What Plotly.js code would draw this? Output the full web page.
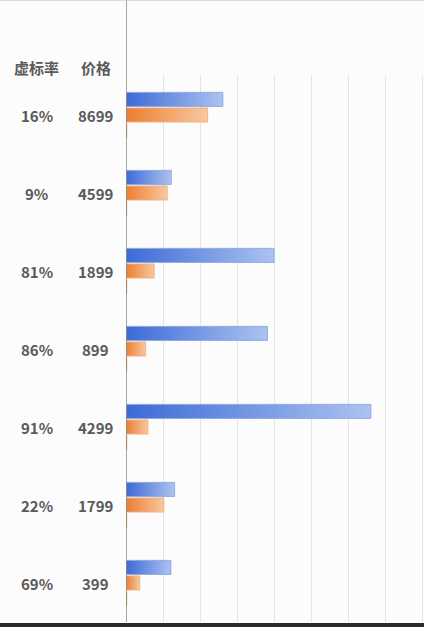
<!DOCTYPE html>
<html>
<head>
<meta charset="utf-8">
<script src="https://cdn.plot.ly/plotly-3.0.1.min.js"></script>
<style>
  html, body { margin: 0; padding: 0; background: #fcfcfc; }
  #myDiv { width: 424px; height: 627px; }
</style>
</head>
<body>
<div id="myDiv"></div>
<script>
// one row per product, top to bottom
var products = ['A', 'B', 'C', 'D', 'E', 'F', 'G'];
var rates = ['16%', '9%', '81%', '86%', '91%', '22%', '69%'];
var prices = ['8699', '4599', '1899', '899', '4299', '1799', '399'];

var claimed = [261, 122, 399, 381, 660, 131, 121];
var measured = [220, 111, 76, 53, 59, 102, 37];
var third = [3, 3, 3, 3, 3, 3, 3];

var txtColor = '#5a5a5a';
var txtFont = {family: 'Noto Sans CJK SC, Noto Sans, sans-serif', size: 15, color: txtColor, weight: 700};

var trace1 = {
  y: products,
  x: claimed,
  type: 'bar',
  orientation: 'h',
  name: 'claimed',
  marker: {
    color: 'rgb(90,130,222)',
    line: {color: 'rgba(140,165,225,0.9)', width: 1}
  },
  hoverinfo: 'none'
};

var trace2 = {
  y: products,
  x: measured,
  type: 'bar',
  orientation: 'h',
  name: 'measured',
  marker: {
    color: 'rgb(240,155,95)',
    line: {color: 'rgba(240,175,130,0.9)', width: 1}
  },
  hoverinfo: 'none'
};

var trace3 = {
  y: products,
  x: third,
  type: 'bar',
  orientation: 'h',
  name: 'other',
  marker: {color: 'rgb(190,145,20)'},
  hoverinfo: 'none'
};

var data = [trace1, trace2, trace3];

var annotations = [
  {text: '虚标率', xref: 'paper', yref: 'paper', x: -0.2997, y: 1.0147, showarrow: false,
   xanchor: 'center', yanchor: 'middle', font: txtFont},
  {text: '价格', xref: 'paper', yref: 'paper', x: -0.1023, y: 1.0147, showarrow: false,
   xanchor: 'center', yanchor: 'middle', font: txtFont}
];
for (var i = 0; i < products.length; i++) {
  annotations.push({text: rates[i], xref: 'paper', yref: 'y', x: -0.2997, y: products[i],
    showarrow: false, xanchor: 'center', yanchor: 'middle', font: txtFont});
  annotations.push({text: prices[i], xref: 'paper', yref: 'y', x: -0.1023, y: products[i],
    showarrow: false, xanchor: 'center', yanchor: 'middle', font: txtFont});
}

var layout = {
  width: 424,
  height: 627,
  margin: {l: 126, r: 0, t: 76, b: 5},
  paper_bgcolor: '#fcfcfc',
  plot_bgcolor: '#fcfcfc',
  showlegend: false,
  barmode: 'group',
  bargap: 0.40,
  bargroupgap: 0.1,
  xaxis: {
    range: [0, 803],
    dtick: 100,
    showgrid: true,
    gridcolor: '#e4e4e4',
    gridwidth: 1,
    zeroline: false,
    showticklabels: false,
    showline: false,
    fixedrange: true
  },
  yaxis: {
    autorange: 'reversed',
    showticklabels: false,
    showgrid: false,
    zeroline: false,
    showline: false,
    fixedrange: true
  },
  annotations: annotations,
  shapes: [
    // vertical axis line, runs up to the top edge
    {type: 'line', xref: 'x', yref: 'paper', x0: 0, x1: 0, y0: 0, y1: 1.15,
     line: {color: '#8a8a8a', width: 1.5}},
    // frame edges of the screenshot
    {type: 'line', xref: 'paper', yref: 'paper', x0: -0.43, x1: 1, y0: 1.14, y1: 1.14,
     line: {color: '#bdbdbd', width: 2}},
    {type: 'rect', xref: 'paper', yref: 'paper', x0: -0.43, x1: 1, y0: -0.01, y1: -0.002,
     fillcolor: '#2b2b2b', line: {width: 0}}
  ]
};

Plotly.newPlot('myDiv', data, layout, {staticPlot: true}).then(function (gd) {
  // give the bars a left-to-right gradient like the original
  var svg = gd.querySelector('svg.main-svg');
  var ns = 'http://www.w3.org/2000/svg';
  var defs = document.createElementNS(ns, 'defs');
  function grad(id, c1, c2) {
    var g = document.createElementNS(ns, 'linearGradient');
    g.setAttribute('id', id);
    g.setAttribute('x1', '0'); g.setAttribute('y1', '0');
    g.setAttribute('x2', '1'); g.setAttribute('y2', '0');
    var s1 = document.createElementNS(ns, 'stop');
    s1.setAttribute('offset', '0'); s1.setAttribute('stop-color', c1);
    var s2 = document.createElementNS(ns, 'stop');
    s2.setAttribute('offset', '1'); s2.setAttribute('stop-color', c2);
    g.appendChild(s1); g.appendChild(s2);
    defs.appendChild(g);
  }
  grad('gradBlue', 'rgb(60,106,214)', 'rgb(172,195,240)');
  grad('gradOrange', 'rgb(237,125,49)', 'rgb(248,200,160)');
  svg.insertBefore(defs, svg.firstChild);

  var traces = gd.querySelectorAll('.trace.bars');
  var fills = ['url(#gradBlue)', 'url(#gradOrange)'];
  for (var t = 0; t < 2 && t < traces.length; t++) {
    traces[t].querySelectorAll('path').forEach(function (p) {
      p.style.fill = fills[t];
    });
  }
});
</script>
</body>
</html>
